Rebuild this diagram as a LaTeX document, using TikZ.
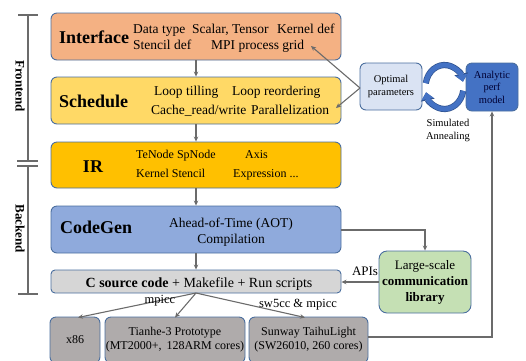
\documentclass[tikz,border=0pt]{standalone}
\usepackage{fontspec}
\setmainfont{Liberation Serif}
\usetikzlibrary{arrows.meta,calc}

\definecolor{bordc}{HTML}{4A6E9E}
\definecolor{arrc}{HTML}{6B6B6B}
\definecolor{ifill}{HTML}{F4B183}
\definecolor{sfill}{HTML}{FFD966}
\definecolor{irfill}{HTML}{FFC000}
\definecolor{cgfill}{HTML}{8FAADC}
\definecolor{csfill}{HTML}{D6D6D6}
\definecolor{hwfill}{HTML}{AFABAB}
\definecolor{opfill}{HTML}{DAE3F3}
\definecolor{anfill}{HTML}{4472C4}
\definecolor{lsfill}{HTML}{C5E0B4}
\definecolor{cyc}{HTML}{4472C4}
\definecolor{cycdark}{HTML}{2F528F}

\newcommand\fsz[2]{\fontsize{#1}{#2}\selectfont}

\begin{document}
\begin{tikzpicture}[x=1pt,y=-1pt,
  box/.style={draw=bordc, line width=0.9pt, rounded corners=6pt, inner sep=0pt},
  flow/.style={draw=arrc, line width=1.1pt, -{Stealth[length=5pt,width=4.5pt]}},
  plain/.style={draw=arrc, line width=1.1pt},
  title/.style={font=\fsz{18}{20}\bfseries, anchor=base west, inner sep=0pt},
  item/.style={font=\fsz{13.5}{15}, anchor=base west, inner sep=0pt},
  iritem/.style={font=\fsz{12}{14}, anchor=base west, inner sep=0pt},
  side/.style={font=\fsz{13}{15}\bfseries, rotate=-90, inner sep=0pt}
]
\useasboundingbox (0,0) rectangle (526,360);

% ---- main pipeline boxes
\node[box, fill=ifill, minimum width=290pt, minimum height=47pt] (iface) at (196,36.5) {};
\node[box, fill=sfill, minimum width=290pt, minimum height=47pt] (sched) at (196,100.5) {};
\node[box, fill=irfill, minimum width=290pt, minimum height=46pt] (ir) at (196,165) {};
\node[box, fill=cgfill, minimum width=290pt, minimum height=47pt] (cgen) at (196,229.5) {};
\node[box, fill=csfill, minimum width=290pt, minimum height=23pt, rounded corners=4pt] (csrc) at (196,281.5) {};

% ---- Interface
\node[title] (t1) at (59,43) {Interface};
\node[item] (i1) at (133,33) {Data type};
\node[item] (i2) at (192,33) {Scalar, Tensor};
\node[item] (i3) at (277,33) {Kernel def};
\node[item] (i4) at (133,49.5) {Stencil def};
\node[item] (i5) at (211,49.5) {MPI process grid};

% ---- Schedule
\node[title] (t2) at (59,107) {Schedule};
\node[item] (s1) at (154,95) {Loop tilling};
\node[item] (s2) at (232,95) {Loop reordering};
\node[item] (s3) at (151,114) {Cache\_read/write};
\node[item] (s4) at (251,114) {Parallelization};

% ---- IR
\node[title, anchor=base] (t3) at (93,172) {IR};
\node[iritem] (r1) at (136,158.5) {TeNode SpNode};
\node[iritem] (r2) at (245,158.5) {Axis};
\node[iritem] (r3) at (136,177) {Kernel Stencil};
\node[iritem] (r4) at (233,177) {Expression ...};

% ---- CodeGen
\node[title] (t4) at (60,233.5) {CodeGen};
\node[item, anchor=base] (c1) at (231,227) {Ahead-of-Time (AOT)};
\node[item, anchor=base] (c2) at (231,243.5) {Compilation};

% ---- C source
\node[font=\fsz{14}{16}, anchor=base, inner sep=0pt] (cs) at (199,287) {\textbf{C source code} + Makefile + Run scripts};

% ---- target machines
\node[box, fill=hwfill, minimum width=50pt, minimum height=46pt, font=\fsz{12}{14}] (x86) at (75,340) {x86};
\node[box, fill=hwfill, minimum width=140pt, minimum height=46pt, font=\fsz{12}{14}, align=center] (th) at (175,340)
  {Tianhe-3 Prototype\\(MT2000+,\, 128ARM cores)};
\node[box, fill=hwfill, minimum width=119pt, minimum height=46pt, font=\fsz{12}{14}, align=center] (sw) at (308.5,340)
  {Sunway TaihuLight\\(SW26010, 260 cores)};

% ---- tuning loop
\node[box, fill=opfill, minimum width=62pt, minimum height=47pt, align=center, font=\fsz{10.5}{13}] (opt) at (391,86.5)
  {Optimal\\parameters};
\node[box, fill=anfill, minimum width=52pt, minimum height=48pt, align=center, text=black!80!blue, font=\fsz{10.5}{12.5}] (ana) at (492,87)
  {Analytic\\perf\\model};
\node[align=center, inner sep=0pt, font=\fsz{10.5}{13}] (sa) at (448,130)
  {Simulated\\Annealing};

% cycle icon between the two boxes
\coordinate (cc) at (444.5,87);
\foreach \col/\lw/\tw/\tl in {cycdark/6.2pt/13.5pt/8pt, cyc/4.8pt/11.5pt/6.8pt}{
  \draw[\col, line width=\lw, -{Triangle[width=\tw,length=\tl]}]
    ($(cc)+(170:19pt and 22pt)$) arc[start angle=170, end angle=14, x radius=19pt, y radius=22pt];
  \draw[\col, line width=\lw, -{Triangle[width=\tw,length=\tl]}]
    ($(cc)+(-10:19pt and 22pt)$) arc[start angle=-10, end angle=-166, x radius=19pt, y radius=22pt];
}

% ---- communication library
\node[box, fill=lsfill, minimum width=92pt, minimum height=62pt, rounded corners=8pt, align=center, font=\fsz{13}{16}] (lib) at (425,282)
  {Large-scale\\\textbf{communication}\\\textbf{library}};

% ---- pipeline arrows
\draw[flow] (iface) -- (sched);
\draw[flow] (sched) -- (ir);
\draw[flow] (ir) -- (cgen);
\draw[flow] (cgen) -- (csrc);

% parameters fed back into the frontend
\coordinate (optin) at (360,88);
\coordinate (ifin) at (311,46);
\coordinate (scin) at (336,108);
\draw[flow] (optin) -- (ifin);
\draw[flow] (optin) -- (scin);

% compilation to the machines
\coordinate (csout) at (196,293);
\draw[flow] (csout) -- (78,317.5);
\draw[flow] (csout) -- (175,317.5);
\draw[flow] (csout) -- (305,317.5);
\node[font=\fsz{12.5}{14}, inner sep=0pt] (l1) at (160,301) {mpicc};
\node[font=\fsz{12.5}{14}, inner sep=0pt] (l2) at (298,305) {sw5cc \& mpicc};

% codegen uses the communication library
\draw[flow] (cgen.east |- 0,230) -| (lib.north);
\draw[flow] (lib.west) -- (csrc.east |- lib.west);
\node[font=\fsz{13}{15}, inner sep=0pt] (api) at (365,271) {APIs};

% measurements back to the performance model
\draw[flow] (sw.east |- 0,337) -| (ana.south);

% ---- frontend / backend brackets
\draw[plain] (28,15) -- (28,161);
\draw[plain] (18,15) -- (38,15);
\draw[plain] (17,161) -- (38,161);
\draw[plain] (17,166) -- (38,166);
\draw[plain] (28,166) -- (28,294);
\draw[plain] (18,294) -- (38,294);
\node[side] (fe) at (20,86) {Frontend};
\node[side] (be) at (20,229) {Backend};
\end{tikzpicture}
\end{document}
